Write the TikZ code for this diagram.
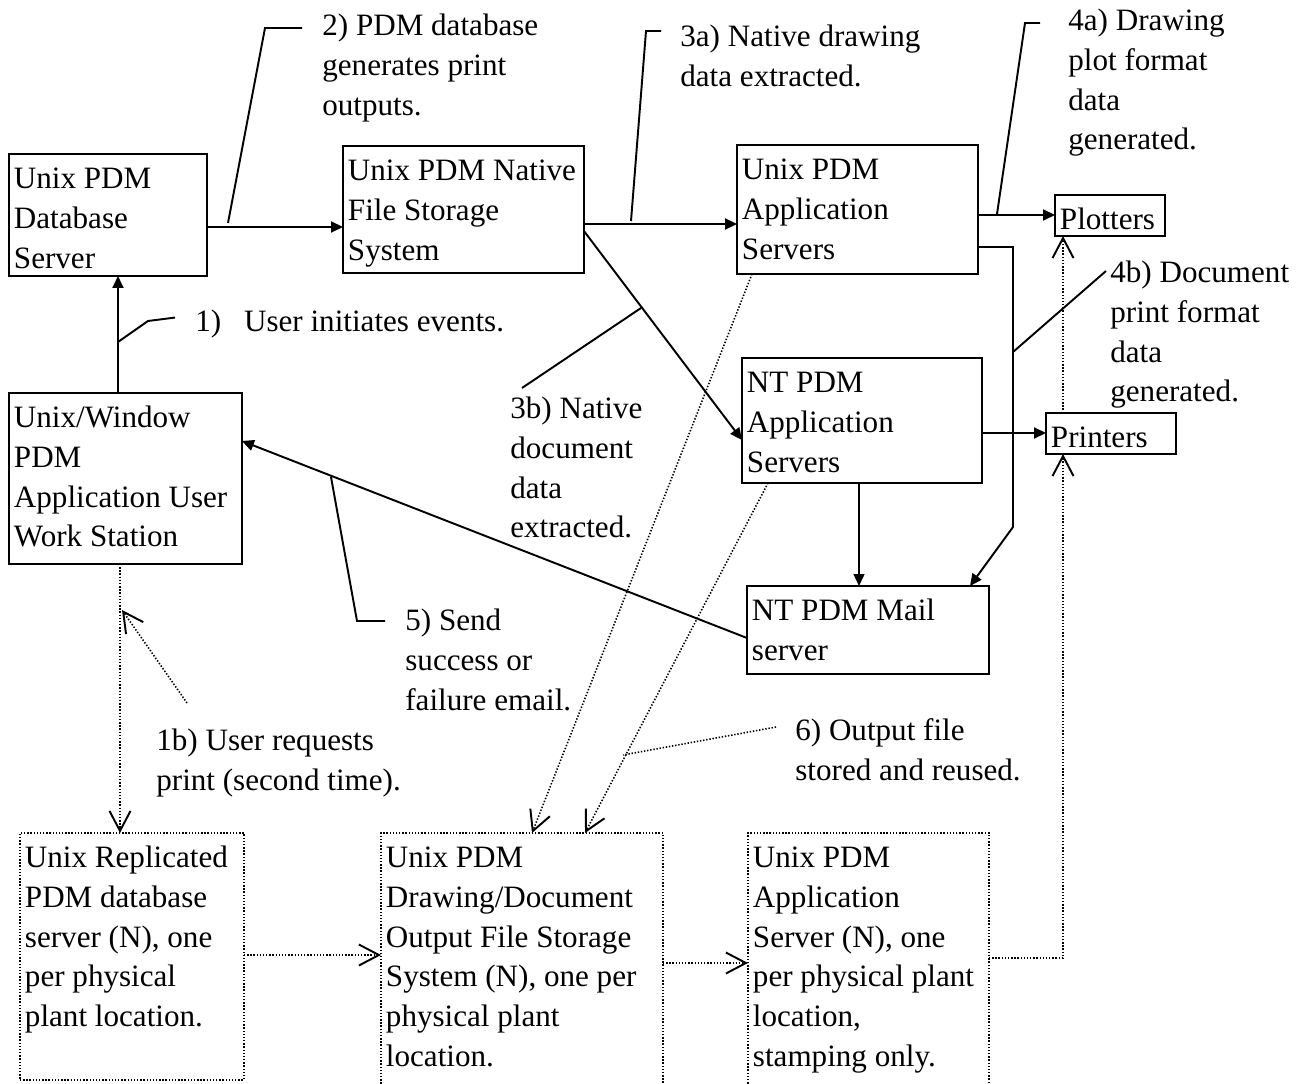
\documentclass[tikz,border=0pt]{standalone}
\usepackage{fontspec}
\setmainfont{Liberation Serif}
\usetikzlibrary{arrows.meta}
\newlength{\px}
\setlength{\px}{0.02cm}
% first line of every text block gets a fixed ascent
\newcommand{\firstline}{\rule{0pt}{19.8pt}}
% box body: width and height in px units, text set from the top-left
\newcommand{\boxbody}[3]{\parbox[c][#2\px][t]{\dimexpr#1\px-10\px\relax}{\raggedright\firstline#3}}
\begin{document}
\begin{tikzpicture}[x=0.02cm, y=-0.02cm,
  every node/.style={font=\fontsize{17.7pt}{22.6pt}\selectfont},
  solidbox/.style={draw, line width=1.1pt, anchor=north west, inner xsep=2.83pt, inner ysep=0pt, outer sep=0pt},
  dotbox/.style={solidbox, line width=0.9pt, dash pattern=on 0.8pt off 1.0pt},
  flow/.style={line width=1.1pt, -{Triangle[length=0.24cm,width=0.22cm]}},
  thinflow/.style={flow, line width=0.8pt},
  leader/.style={line width=1.1pt},
  dotleader/.style={line width=0.9pt, dash pattern=on 0.8pt off 1.0pt},
  dotflow/.style={dotleader, -{Straight Barb[length=0.4cm,width=0.42cm,line width=1.1pt]}},
  lbl/.style={anchor=north west, inner sep=0pt, align=left}]

\useasboundingbox (0,0) rectangle (1307,1084);
\clip (0,0) rectangle (1307,1084);

% ---- solid boxes
\node[solidbox] (dbsrv) at (9,154) {\boxbody{198}{122}{Unix PDM\\Database\\Server}};
\node[solidbox] (native) at (343,146) {\boxbody{241}{127}{Unix PDM Native\\File Storage\\System}};
\node[solidbox] (uxapp) at (737,145) {\boxbody{241}{129}{Unix PDM\\Application\\Servers}};
\node[solidbox] (plot) at (1055,195) {\boxbody{110}{41}{Plotters}};
\node[solidbox] (ws) at (9,393) {\boxbody{233}{171}{Unix/Window\\PDM\\Application User\\Work Station}};
\node[solidbox] (ntapp) at (742,358) {\boxbody{240}{125}{NT PDM\\Application\\Servers}};
\node[solidbox] (print) at (1046,413) {\boxbody{130}{41}{Printers}};
\node[solidbox] (mail) at (747,586) {\boxbody{242}{88}{NT PDM Mail\\server}};

% ---- dotted boxes
\node[dotbox] (repl) at (20,833) {\boxbody{224}{247}{Unix Replicated\\PDM database\\server (N), one\\per physical\\plant location.}};
\node[dotbox] (outfs) at (381,833) {\boxbody{282}{262}{Unix PDM\\Drawing/Document\\Output File Storage\\System (N), one per\\physical plant\\location.}};
\node[dotbox] (stamp) at (748,833) {\boxbody{241}{262}{Unix PDM\\Application\\Server (N), one\\per physical plant\\location,\\stamping only.}};

% ---- labels
\node[lbl] (t1) at (195,296.5) {\firstline 1)\hspace{13pt}User initiates events.};
\node[lbl] (t2) at (322,0.5) {\firstline 2) PDM database\\generates print\\outputs.};
\node[lbl] (t3a) at (680,11.5) {\firstline 3a) Native drawing\\data extracted.};
\node[lbl] (t3b) at (510,383.5) {\firstline 3b) Native\\document\\data\\extracted.};
\node[lbl] (t4a) at (1068,-4.5) {\firstline 4a) Drawing\\plot format\\data\\generated.};
\node[lbl] (t4b) at (1110,247.5) {\firstline 4b) Document\\print format\\data\\generated.};
\node[lbl] (t5) at (405,595.5) {\firstline 5) Send\\success or\\failure email.};
\node[lbl] (t1b) at (156,715.5) {\firstline 1b) User requests\\print (second time).};
\node[lbl] (t6) at (795,705.5) {\firstline 6) Output file\\stored and reused.};

% ---- corner points of routed connectors
\coordinate (cf1) at (1013,247);
\coordinate (cf2) at (1013,527);
\coordinate (pr1) at (1063,958);

% ---- solid flows
\draw[flow] (ws.north -| 118,0) -- (dbsrv.south -| 118,0);
\draw[flow] (dbsrv.east |- 0,227) -- (native.west |- 0,227);
\draw[flow] (native.east |- 0,224) -- (uxapp.west |- 0,224);
\draw[flow] (native.east |- 0,231) -- (ntapp.west |- 0,440);
\draw[flow] (uxapp.east |- 0,215) -- (plot.west |- 0,215);
\draw[flow] (uxapp.east |- 0,247) -- (cf1) -- (cf2) -- (mail.north -| 970,0);
\draw[flow] (ntapp.east |- 0,433) -- (print.west |- 0,433);
\draw[thinflow] (ntapp.south -| 859,0) -- (mail.north -| 859,0);
\draw[flow] (mail.west |- 0,638) -- (ws.east |- 0,441);

% ---- dotted flows
\draw[dotflow] (ws.south -| 120,0) -- (repl.north -| 120,0);
\draw[dotflow] (repl.east |- 0,955) -- (outfs.west |- 0,955);
\draw[dotflow] (outfs.east |- 0,963) -- (stamp.west |- 0,963);
\draw[dotflow] (uxapp.south -| 752,0) -- (outfs.north -| 532,0);
\draw[dotflow] (ntapp.south -| 768,0) -- (outfs.north -| 585,0);
\draw[dotflow] (stamp.east |- pr1) -- (pr1) -- (print.south -| pr1);
\draw[dotflow] (print.north -| pr1) -- (plot.south -| pr1);

% ---- callout leaders
\draw[leader] (118,342) -- (148,321) -- (t1.west -| 175,0);
\draw[leader] (228,223) -- (265,28) -- (302,28);
\draw[leader] (631,221) -- (646,31) -- (661,31);
\draw[leader] (641,308) -- (522,388);
\draw[leader] (997,214) -- (1025,23) -- (1040,23);
\draw[leader] (1013,352) -- (1106,271);
\draw[leader] (331,477) -- (357,621) -- (385,621);
\draw[dotflow] (187,703) -- (122,610);
\draw[dotleader] (776,727) -- (623,755);

\end{tikzpicture}
\end{document}
